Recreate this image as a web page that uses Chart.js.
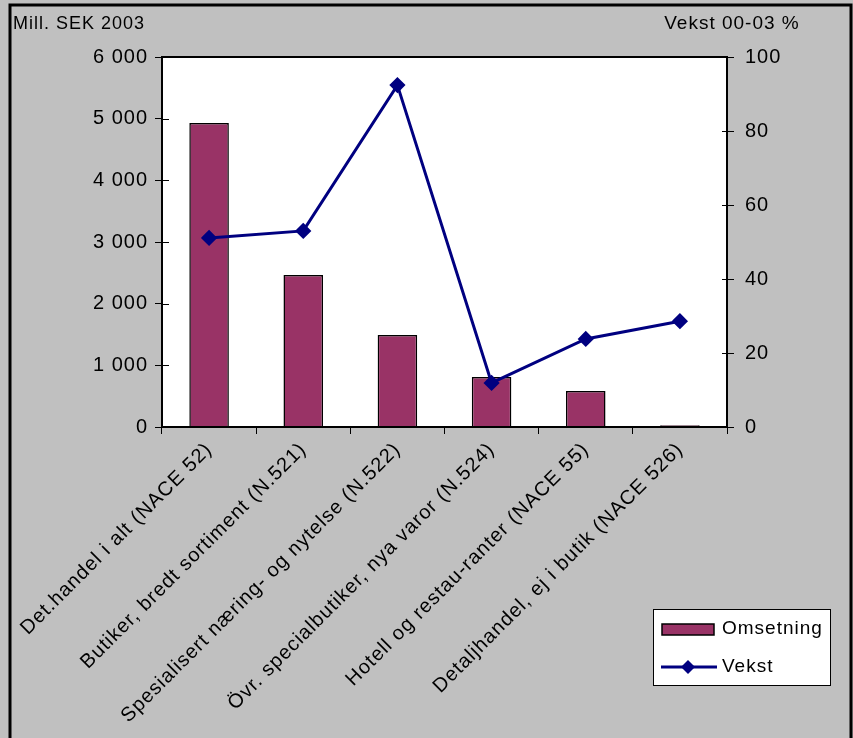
<!DOCTYPE html>
<html lang="en">
<head>
    <meta charset="UTF-8">
    <title>Omsetning og vekst</title>
    <script src="https://cdn.jsdelivr.net/npm/chart.js"></script>
    <style>
        html, body { margin: 0; padding: 0; background: #ffffff; }
        #wrap { width: 853px; height: 738px; position: relative; }
    </style>
</head>
<body>
    <div id="wrap">
        <canvas id="chart" width="853" height="738"></canvas>
    </div>

    <script>
        // data
        var categories = [
            'Det.handel i alt (NACE 52)',
            'Butiker, bredt sortiment (N.521)',
            'Spesialisert næring- og nytelse (N.522)',
            'Övr. specialbutiker, nya varor (N.524)',
            'Hotell og restau-ranter (NACE 55)',
            'Detaljhandel, ej i butik (NACE 526)'
        ];
        var omsetning = [4930, 2465, 1490, 810, 585, 30];
        var vekst = [51.1, 53.0, 92.4, 11.9, 23.8, 28.6];
        var leftTicks = [0, 1000, 2000, 3000, 4000, 5000, 6000];
        var rightTicks = [0, 20, 40, 60, 80, 100];

        var FONT = 'Liberation Sans, Arial, sans-serif';
        var BAR = '#993366';
        var LINE = '#000080';

        function fmt(v) {
            return String(v).replace(/\B(?=(\d{3})+(?!\d))/g, ' ');
        }

        // the old Excel text is spaced a bit wider than Arial
        var spacing = {
            id: 'spacing',
            beforeUpdate: function(chart) { chart.ctx.letterSpacing = '1px'; },
            beforeDraw: function(chart) { chart.ctx.letterSpacing = '1px'; }
        };

        // background, outer frame, axis captions and legend box
        var frame = {
            id: 'frame',
            beforeDraw: function(chart) {
                var c = chart.ctx;
                c.save();
                c.fillStyle = '#c0c0c0';
                c.fillRect(0, 0, chart.width, chart.height);
                var a = chart.chartArea;
                c.fillStyle = '#ffffff';
                c.fillRect(a.left, a.top, a.right - a.left, a.bottom - a.top);
                c.restore();
            },
            afterDatasetsDraw: function(chart) {
                // inner half of the crossing tick marks on both value axes
                var c = chart.ctx;
                var a = chart.chartArea;
                c.save();
                c.strokeStyle = '#000000';
                c.lineWidth = 1;
                leftTicks.forEach(function(v) {
                    var y = Math.round(chart.scales.y.getPixelForValue(v)) + 0.5;
                    c.beginPath();
                    c.moveTo(a.left, y);
                    c.lineTo(a.left + 7, y);
                    c.stroke();
                });
                rightTicks.forEach(function(v) {
                    var y = Math.round(chart.scales.y1.getPixelForValue(v)) + 0.5;
                    c.beginPath();
                    c.moveTo(a.right - 5, y);
                    c.lineTo(a.right, y);
                    c.stroke();
                });
                c.restore();
            },
            afterDraw: function(chart) {
                var c = chart.ctx;
                var a = chart.chartArea;
                c.save();
                c.strokeStyle = '#000000';
                c.lineWidth = 2;
                c.strokeRect(a.left, a.top, a.right - a.left, a.bottom - a.top);
                c.lineWidth = 3;
                c.strokeRect(10, 5, 841, 740);

                c.fillStyle = '#000000';
                c.font = '18px ' + FONT;
                c.textBaseline = 'middle';
                c.textAlign = 'left';
                c.fillText('Mill. SEK 2003', 13, 24);
                c.font = '19px ' + FONT;
                c.textAlign = 'center';
                c.fillText('Vekst 00-03 %', 732, 24);

                // legend
                c.fillStyle = '#ffffff';
                c.fillRect(653, 609, 177, 76);
                c.lineWidth = 1;
                c.strokeStyle = '#000000';
                c.strokeRect(653.5, 609.5, 177, 76);
                c.fillStyle = BAR;
                c.fillRect(662, 624, 52, 11);
                c.lineWidth = 1.5;
                c.strokeRect(662, 624, 52, 11);
                c.strokeStyle = LINE;
                c.lineWidth = 3;
                c.beginPath();
                c.moveTo(661, 667);
                c.lineTo(717, 667);
                c.stroke();
                c.fillStyle = LINE;
                c.beginPath();
                c.moveTo(688, 660);
                c.lineTo(695, 667);
                c.lineTo(688, 674);
                c.lineTo(681, 667);
                c.closePath();
                c.fill();
                c.fillStyle = '#000000';
                c.font = '19px ' + FONT;
                c.textAlign = 'left';
                c.fillText('Omsetning', 722, 629);
                c.fillText('Vekst', 722, 667);
                c.restore();
            }
        };

        var ctx = document.getElementById('chart').getContext('2d');
        var chart = new Chart(ctx, {
            data: {
                labels: categories,
                datasets: [{
                    type: 'line',
                    label: 'Vekst',
                    data: vekst,
                    yAxisID: 'y1',
                    borderColor: LINE,
                    backgroundColor: LINE,
                    borderWidth: 3,
                    pointStyle: 'rectRot',
                    pointRadius: 6,
                    pointHoverRadius: 6,
                    tension: 0,
                    order: 0
                }, {
                    type: 'bar',
                    label: 'Omsetning',
                    data: omsetning,
                    yAxisID: 'y',
                    backgroundColor: BAR,
                    borderColor: '#000000',
                    borderWidth: 1.5,
                    categoryPercentage: 1,
                    barPercentage: 0.42,
                    order: 1
                }]
            },
            options: {
                responsive: false,
                animation: false,
                events: [],
                layout: { padding: { top: 57, left: 0, right: 0, bottom: 0 } },
                plugins: {
                    legend: { display: false },
                    tooltip: { enabled: false }
                },
                scales: {
                    x: {
                        offset: true,
                        border: { display: true, color: '#000000', width: 2 },
                        grid: {
                            offset: true,
                            drawOnChartArea: false,
                            drawTicks: true,
                            tickLength: 7,
                            color: '#000000'
                        },
                        ticks: {
                            minRotation: 45,
                            maxRotation: 45,
                            autoSkip: false,
                            padding: 4,
                            color: '#000000',
                            font: { family: FONT, size: 20 }
                        },
                        afterFit: function(s) { s.height = 311; }
                    },
                    y: {
                        position: 'left',
                        min: 0,
                        max: 6000,
                        border: { display: true, color: '#000000', width: 2 },
                        grid: { drawOnChartArea: false, tickLength: 7, color: '#000000' },
                        afterBuildTicks: function(s) {
                            s.ticks = leftTicks.map(function(v) { return { value: v }; });
                        },
                        ticks: {
                            padding: 7,
                            color: '#000000',
                            font: { family: FONT, size: 20 },
                            callback: function(v) { return fmt(v); }
                        },
                        afterFit: function(s) { s.width = 162; }
                    },
                    y1: {
                        position: 'right',
                        min: 0,
                        max: 100,
                        border: { display: true, color: '#000000', width: 2 },
                        grid: { drawOnChartArea: false, tickLength: 7, color: '#000000' },
                        afterBuildTicks: function(s) {
                            s.ticks = rightTicks.map(function(v) { return { value: v }; });
                        },
                        ticks: {
                            padding: 11,
                            color: '#000000',
                            font: { family: FONT, size: 20 }
                        },
                        afterFit: function(s) { s.width = 853 - 727; }
                    }
                }
            },
            plugins: [spacing, frame]
        });
    </script>
</body>
</html>
